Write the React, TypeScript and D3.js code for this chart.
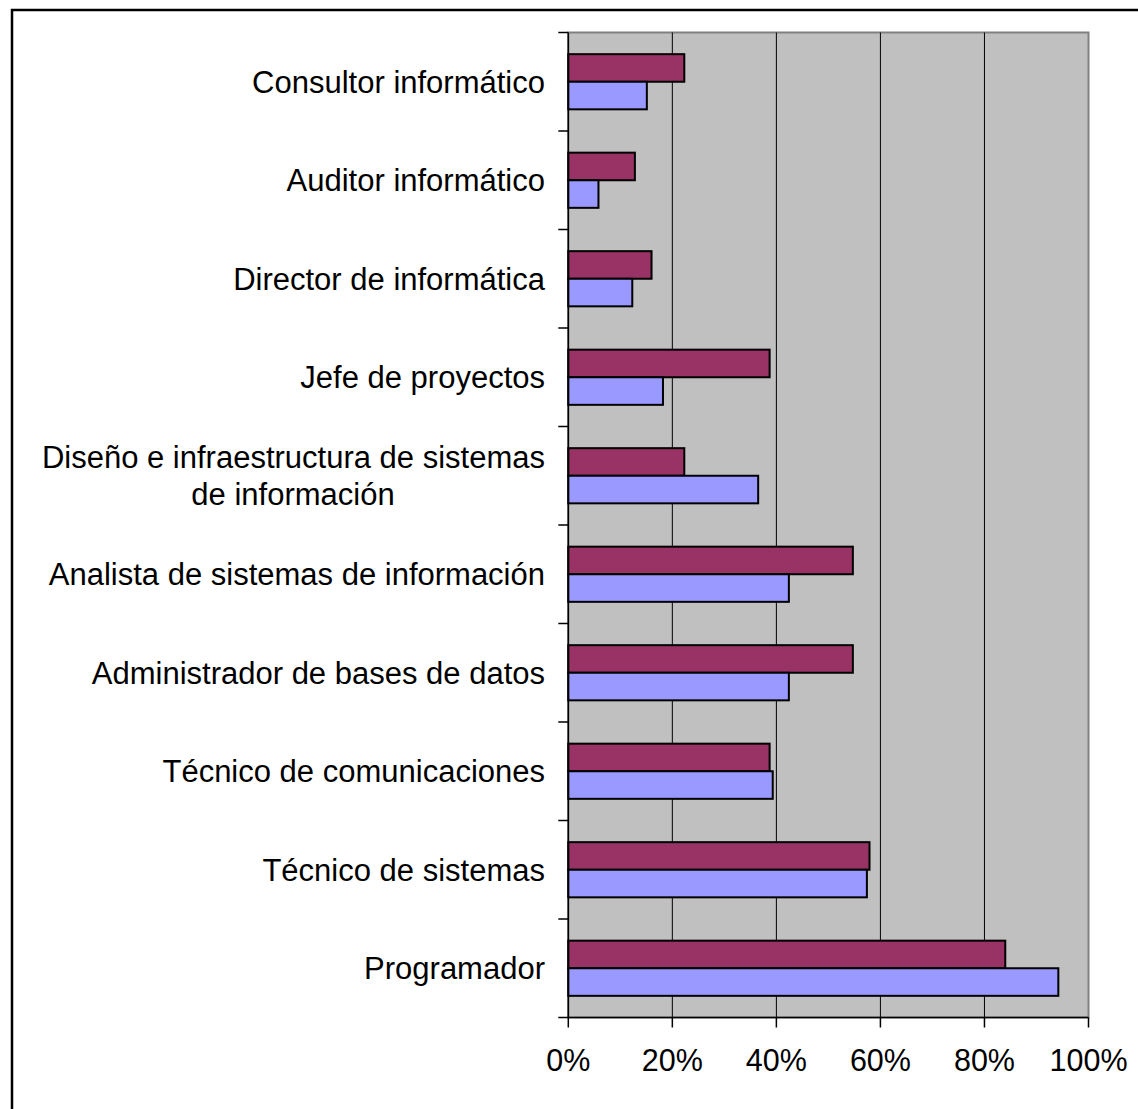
import React from 'react';
import * as d3 from 'd3';

// categories top to bottom, "\n" marks a wrapped label
const categories = [
  'Consultor informático',
  'Auditor informático',
  'Director de informática',
  'Jefe de proyectos',
  'Diseño e infraestructura de sistemas\nde información',
  'Analista de sistemas de información',
  'Administrador de bases de datos',
  'Técnico de comunicaciones',
  'Técnico de sistemas',
  'Programador',
];

// maroon series (upper bar of each pair)
const serieA = [22.3, 12.8, 16.0, 38.7, 22.3, 54.7, 54.7, 38.7, 57.9, 84.0];
// lavender series (lower bar of each pair)
const serieB = [15.1, 5.8, 12.3, 18.2, 36.5, 42.4, 42.4, 39.3, 57.4, 94.2];

const xTicks = [0, 20, 40, 60, 80, 100];
const seriesKeys = ['a', 'b'];

const W = 1138;
const H = 1109;
const plot = { left: 568.3, right: 1088.5, top: 32.5, bottom: 1017.5 };
const font = '"Liberation Sans", Arial, sans-serif';

const App: React.FC = () => {
  const x = d3.scaleLinear().domain([0, 100]).range([plot.left, plot.right]);

  const y = d3
    .scaleBand<string>()
    .domain(categories)
    .range([plot.top, plot.bottom])
    .paddingInner(0.44)
    .paddingOuter(0.22);

  const inner = d3
    .scaleBand<string>()
    .domain(seriesKeys)
    .range([0, y.bandwidth()]);

  const colors: Record<string, string> = { a: '#993366', b: '#9999FF' };
  const values: Record<string, number[]> = { a: serieA, b: serieB };

  const step = y.step();
  const boundaries = d3.range(categories.length + 1).map((i) => plot.top + i * step);

  return (
    <svg
      width={W}
      height={H}
      style={{ position: 'absolute', left: 0, top: 0, background: '#fff' }}
      fontFamily={font}
    >
      {/* outer chart border */}
      <rect x={12} y={10} width={1300} height={1300} fill="none" stroke="#000" strokeWidth={2.5} />

      {/* plot area */}
      <rect
        x={plot.left}
        y={plot.top}
        width={plot.right - plot.left}
        height={plot.bottom - plot.top}
        fill="#C0C0C0"
        stroke="#808080"
        strokeWidth={2}
      />

      {/* gridlines */}
      {xTicks.slice(1, -1).map((t) => (
        <line key={t} x1={x(t)} x2={x(t)} y1={plot.top} y2={plot.bottom} stroke="#000" strokeWidth={1} />
      ))}

      {/* bars */}
      {categories.map((c, i) =>
        seriesKeys.map((k) => (
          <rect
            key={c + k}
            x={x(0)}
            y={(y(c) as number) + (inner(k) as number)}
            width={x(values[k][i]) - x(0)}
            height={inner.bandwidth()}
            fill={colors[k]}
            stroke="#000"
            strokeWidth={2}
          />
        ))
      )}

      {/* axes */}
      <line x1={plot.left} x2={plot.left} y1={plot.top} y2={plot.bottom} stroke="#000" strokeWidth={1.5} />
      <line x1={plot.left} x2={plot.right} y1={plot.bottom} y2={plot.bottom} stroke="#000" strokeWidth={1.5} />

      {boundaries.map((b, i) => (
        <line key={i} x1={plot.left - 10} x2={plot.left} y1={b} y2={b} stroke="#000" strokeWidth={1.5} />
      ))}

      {xTicks.map((t) => (
        <g key={t}>
          <line x1={x(t)} x2={x(t)} y1={plot.bottom} y2={plot.bottom + 10} stroke="#000" strokeWidth={1.5} />
          <text x={x(t)} y={1071} textAnchor="middle" fontSize={30.5} fill="#000">
            {t}%
          </text>
        </g>
      ))}

      {/* category labels */}
      {categories.map((c) => {
        const lines = c.split('\n');
        const cy = (y(c) as number) + y.bandwidth() / 2;
        const lh = 37;
        const wrapped = lines.length > 1;
        return (
          <text key={c} fontSize={31} fill="#000">
            {lines.map((l, j) => (
              <tspan
                key={j}
                x={wrapped && j > 0 ? 545 - 252 : 545}
                y={cy + (j - (lines.length - 1) / 2) * lh}
                dy="0.35em"
                textAnchor={wrapped && j > 0 ? 'middle' : 'end'}
              >
                {l}
              </tspan>
            ))}
          </text>
        );
      })}
    </svg>
  );
};

export default App;
